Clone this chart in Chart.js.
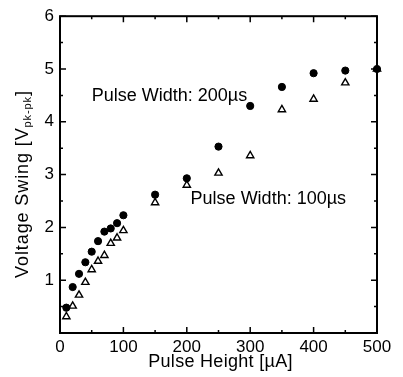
<!DOCTYPE html>
<html>
<head>
<meta charset="utf-8">
<script src="https://cdn.jsdelivr.net/npm/chart.js@4.4.1/dist/chart.umd.min.js"></script>
<style>
  html, body { margin: 0; padding: 0; background: #fff; }
  #wrap { width: 403px; height: 377px; }
</style>
</head>
<body>
<div id="wrap"><canvas id="chart" width="403" height="377"></canvas></div>
<script>
// pulse height [uA]
const pulseHeight = [10, 20, 30, 40, 50, 60, 70, 80, 90, 100, 150, 200, 250, 300, 350, 400, 450, 500];
// voltage swing [Vpk-pk], pulse width 200us (filled circles)
const swing200 = [0.48, 0.87, 1.12, 1.34, 1.54, 1.74, 1.92, 1.98, 2.08, 2.23, 2.62, 2.93, 3.53, 4.30, 4.66, 4.92, 4.97, 5.00];
// voltage swing [Vpk-pk], pulse width 100us (open triangles)
const swing100 = [0.31, 0.51, 0.72, 0.96, 1.20, 1.36, 1.47, 1.70, 1.80, 1.94, 2.47, 2.80, 3.03, 3.36, 4.23, 4.43, 4.74, 5.00];

const xTicks = [0, 100, 200, 300, 400, 500];
const xMinor = [50, 150, 250, 350, 450];
const yTicks = [0, 1, 2, 3, 4, 5, 6];
const yMinor = [0.5, 1.5, 2.5, 3.5, 4.5, 5.5];

const FONT = '"Liberation Sans", Arial, sans-serif';

const toPoints = (ys) => pulseHeight.map((x, i) => ({ x, y: ys[i] }));

// box frame, inward ticks on all four sides, text labels
const frameAndLabels = {
  id: 'frameAndLabels',
  beforeDatasetsDraw(chart) {
    const { ctx, chartArea: a, scales: { x, y } } = chart;
    ctx.save();
    ctx.strokeStyle = '#000';
    ctx.lineWidth = 1.5;
    ctx.beginPath();
    const tickX = (v, len) => {
      const px = x.getPixelForValue(v);
      ctx.moveTo(px, a.bottom); ctx.lineTo(px, a.bottom - len);
      ctx.moveTo(px, a.top); ctx.lineTo(px, a.top + len);
    };
    const tickY = (v, len) => {
      const py = y.getPixelForValue(v);
      ctx.moveTo(a.left, py); ctx.lineTo(a.left + len, py);
      ctx.moveTo(a.right, py); ctx.lineTo(a.right - len, py);
    };
    xTicks.forEach(v => tickX(v, 6));
    xMinor.forEach(v => tickX(v, 3));
    yTicks.forEach(v => tickY(v, 6));
    yMinor.forEach(v => tickY(v, 3));
    ctx.stroke();

    ctx.lineWidth = 2;
    ctx.strokeRect(a.left, a.top, a.right - a.left, a.bottom - a.top);

    // annotations
    ctx.fillStyle = '#000';
    ctx.font = '18px ' + FONT;
    ctx.textAlign = 'left';
    ctx.textBaseline = 'alphabetic';
    ctx.fillText('Pulse Width: 200\u00b5s', x.getPixelForValue(50), y.getPixelForValue(4.4));
    ctx.fillText('Pulse Width: 100\u00b5s', x.getPixelForValue(206), y.getPixelForValue(2.45));

    // x axis title
    ctx.textAlign = 'center';
    ctx.textBaseline = 'middle';
    ctx.letterSpacing = '0.3px';
    ctx.fillText('Pulse Height [\u00b5A]', (a.left + a.right) / 2 + 2, 362);

    // y axis title with subscript
    ctx.translate(22, 184);
    ctx.rotate(-Math.PI / 2);
    ctx.letterSpacing = '0.9px';
    const main = 'Voltage Swing [V';
    const sub = 'pk-pk';
    ctx.font = '18px ' + FONT;
    const wMain = ctx.measureText(main).width;
    ctx.font = '11px ' + FONT;
    const wSub = ctx.measureText(sub).width;
    ctx.font = '18px ' + FONT;
    const wEnd = ctx.measureText(']').width;
    let cx = -(wMain + wSub + wEnd) / 2;
    ctx.textAlign = 'left';
    ctx.textBaseline = 'alphabetic';
    ctx.fillText(main, cx, 6);
    cx += wMain;
    ctx.font = '11px ' + FONT;
    ctx.fillText(sub, cx, 9);
    cx += wSub;
    ctx.font = '18px ' + FONT;
    ctx.fillText(']', cx, 6);
    ctx.restore();
  }
};

new Chart(document.getElementById('chart').getContext('2d'), {
  type: 'scatter',
  data: {
    datasets: [
      {
        label: 'Pulse Width: 200us',
        data: toPoints(swing200),
        pointStyle: 'circle',
        pointRadius: 3.6,
        backgroundColor: '#000',
        borderColor: '#000',
        borderWidth: 1,
        clip: false
      },
      {
        label: 'Pulse Width: 100us',
        data: toPoints(swing100),
        pointStyle: 'triangle',
        pointRadius: 4.2,
        backgroundColor: '#fff',
        borderColor: '#000',
        borderWidth: 1.4,
        clip: false
      }
    ]
  },
  options: {
    responsive: false,
    animation: false,
    events: [],
    layout: { padding: { left: 0, right: 26, top: 15, bottom: 0 } },
    plugins: {
      legend: { display: false },
      tooltip: { enabled: false }
    },
    scales: {
      x: {
        type: 'linear',
        min: 0,
        max: 500,
        afterBuildTicks: (s) => { s.ticks = xTicks.map(v => ({ value: v })); },
        afterFit: (s) => { s.height = 44; },
        grid: { display: false, drawTicks: false },
        border: { display: false },
        ticks: { color: '#000', padding: 4, maxRotation: 0, font: { family: FONT, size: 17 } }
      },
      y: {
        type: 'linear',
        min: 0,
        max: 6,
        afterBuildTicks: (s) => { s.ticks = yTicks.map(v => ({ value: v })); },
        afterFit: (s) => { s.width = 60; },
        grid: { display: false, drawTicks: false },
        border: { display: false },
        ticks: {
          color: '#000',
          padding: 6,
          font: { family: FONT, size: 17 },
          callback: (v) => (v === 0 ? '' : String(v))
        }
      }
    }
  },
  plugins: [frameAndLabels]
});
</script>
</body>
</html>
